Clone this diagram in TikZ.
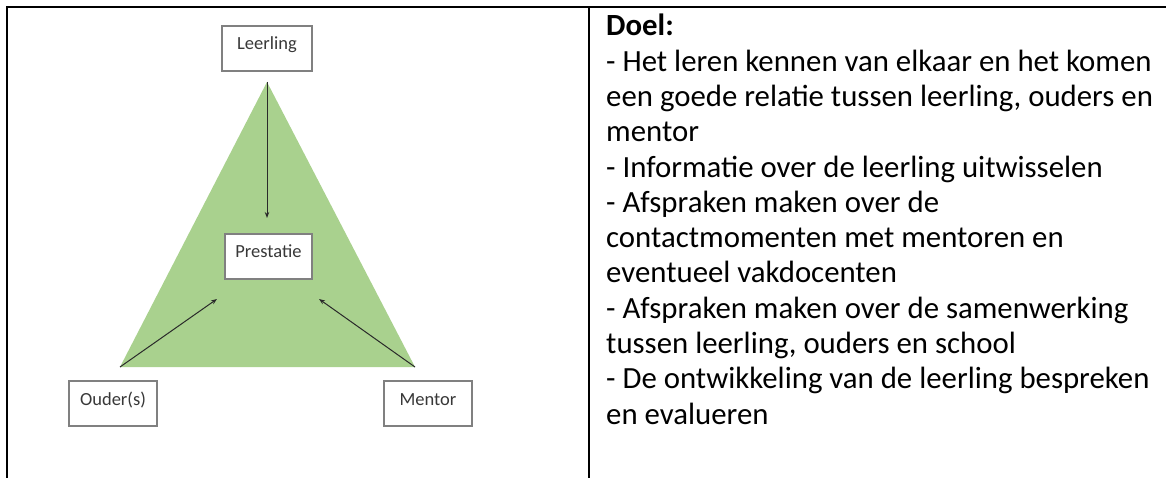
\documentclass[tikz,border=0pt]{standalone}
\usepackage{fontspec}
\setmainfont{Carlito}
\usetikzlibrary{arrows.meta}
\definecolor{trigreen}{HTML}{A9D18E}
\definecolor{boxgray}{HTML}{808080}
\definecolor{labelgray}{HTML}{383838}
\definecolor{arrowgray}{HTML}{2A2A2A}
\tikzset{
  lbox/.style={draw=boxgray, line width=1.2pt, fill=white, inner sep=0pt,
    minimum height=45pt, text height=12pt, text depth=9pt,
    font=\fontsize{18.5}{20}\selectfont, text=labelgray},
  conn/.style={draw=arrowgray, line width=1pt, -{Stealth[length=6pt,width=4.5pt]}},
  frame/.style={draw=black, line width=1.7pt},
}
\begin{document}
\begin{tikzpicture}[x=1pt,y=-1pt]
\useasboundingbox (0,0) rectangle (1166,478);
% table frame
\coordinate (tl) at (7,7);
\coordinate (tr) at (1166,7);
\coordinate (bl) at (7,478);
\coordinate (dt) at (589,7);
\coordinate (db) at (589,478);
\draw[frame] (bl) -- (tl) -- (tr);
\draw[frame] (dt) -- (db);
% triangle
\coordinate (apex) at (267,82);
\coordinate (tleft) at (120,367);
\coordinate (tright) at (415,367);
\fill[trigreen] (apex) -- (tleft) -- (tright) -- cycle;
% boxes
\node[lbox, minimum width=90pt] (leerling) at (267,48.5) {Leerling};
\node[lbox, minimum width=87pt] (prestatie) at (268.5,256.5) {Prestatie};
\node[lbox, minimum width=88pt] (ouders) at (113,403.5) {Ouder(s)};
\node[lbox, minimum width=88pt] (mentor) at (428,403.5) {Mentor};
% arrow ends
\coordinate (etop) at (267,218);
\coordinate (eleft) at (217,299);
\coordinate (eright) at (319,299);
\draw[conn] (apex) -- (etop);
\draw[conn] (tleft) -- (eleft);
\draw[conn] (tright) -- (eright);
% text
\node[anchor=north west, inner sep=0pt, align=left,
  font=\fontsize{30.8}{35.3}\selectfont] (doel) at (606,14) {%
\textbf{Doel:}\\
- Het leren kennen van elkaar en het komen\\
een goede relatie tussen leerling, ouders en\\
mentor\\
- Informatie over de leerling uitwisselen\\
- Afspraken maken over de\\
contactmomenten met mentoren en\\
eventueel vakdocenten\\
- Afspraken maken over de samenwerking\\
tussen leerling, ouders en school\\
- De ontwikkeling van de leerling bespreken\\
en evalueren};
\end{tikzpicture}
\end{document}
